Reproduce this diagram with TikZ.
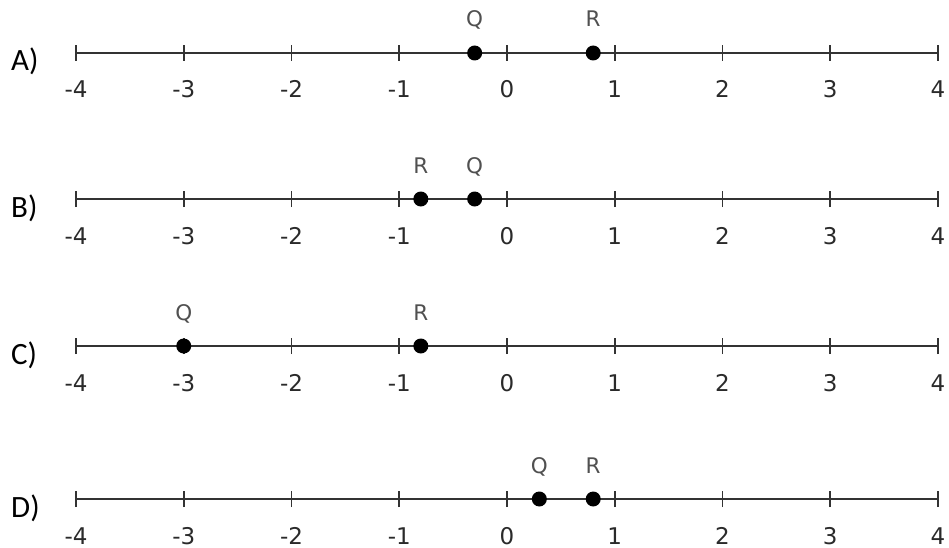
\documentclass[tikz,border=0pt]{standalone}
\usepackage{fontspec}
\setmainfont{DejaVu Sans}
\newfontfamily\letterfont{Carlito}
\definecolor{linegray}{HTML}{333333}
\definecolor{numgray}{HTML}{2a2a2a}
\definecolor{ptgray}{HTML}{505050}
\begin{document}
\begin{tikzpicture}[x=1pt,y=-1pt,
  axis/.style={line width=1.8pt, draw=linegray},
  tickmark/.style={line width=1.8pt, draw=linegray},
  dot/.style={circle, fill=black, inner sep=0pt, minimum size=15pt},
  numlabel/.style={anchor=base, font=\fontsize{23}{26}\selectfont, text=numgray, inner sep=0pt},
  ptlabel/.style={anchor=base, font=\fontsize{21.5}{24}\selectfont, text=ptgray, inner sep=0pt},
  rowlabel/.style={anchor=base west, font=\letterfont\fontsize{31}{36}\selectfont, inner sep=0pt}]
\useasboundingbox (0,0) rectangle (949,548);
\foreach \row/\y/\lab/\qv/\rv in {A/53/A)/-0.3/0.8, B/199/B)/-0.3/-0.8, C/346/C)/-3/-0.8, D/499/D)/0.3/0.8}{
  \node[rowlabel] (lab\row) at (11,\y+18) {\lab};
  \coordinate (l\row) at (76,\y);
  \coordinate (r\row) at (938,\y);
  \draw[axis] (l\row) -- (r\row);
  \foreach \i in {0,...,8}{
    \pgfmathtruncatemacro{\v}{\i-4}
    \coordinate (t\row\i) at ({76+107.75*\i},\y);
    \draw[tickmark] ([yshift=-8pt]t\row\i) -- ([yshift=8pt]t\row\i);
    \node[numlabel] (n\row\i) at ({76+107.75*\i},\y+45) {\v};
  }
  \node[dot] (q\row) at ({507+107.75*\qv},\y) {};
  \node[ptlabel] (ql\row) at ({507+107.75*\qv},\y-26) {Q};
  \node[dot] (p\row) at ({507+107.75*\rv},\y) {};
  \node[ptlabel] (rl\row) at ({507+107.75*\rv},\y-26) {R};
}
\end{tikzpicture}
\end{document}
